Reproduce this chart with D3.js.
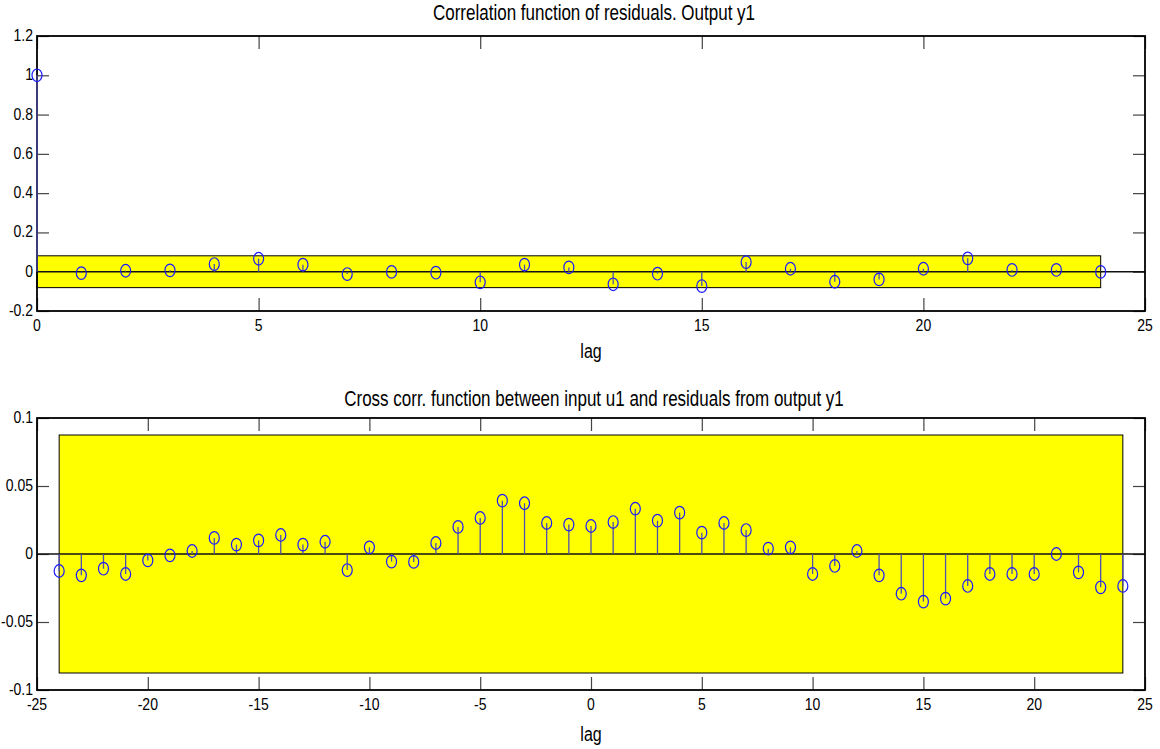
<!DOCTYPE html>
<html>
<head>
<meta charset="utf-8">
<script src="https://cdn.jsdelivr.net/npm/d3@7/dist/d3.min.js"></script>
<style>
  html, body { margin: 0; padding: 0; background: #fff; }
  svg { display: block; }
  text { font-family: "Liberation Sans", Arial, Helvetica, sans-serif; fill: #000; }
</style>
</head>
<body>
<svg id="chart" width="1160" height="749"></svg>
<script>
// ---------- data ----------
const acfLags = [0,1,2,3,4,5,6,7,8,9,10,11,12,13,14,15,16,17,18,19,20,21,22,23,24];
const acfValues = [1, -0.007, 0.005, 0.007, 0.039, 0.066, 0.036, -0.012, -0.001, -0.005,
  -0.054, 0.036, 0.022, -0.064, -0.01, -0.073, 0.049, 0.015, -0.051, -0.039,
  0.015, 0.068, 0.009, 0.009, -0.001];
const acfConf = 0.081;

const ccfLags = [-24,-23,-22,-21,-20,-19,-18,-17,-16,-15,-14,-13,-12,-11,-10,-9,-8,-7,-6,-5,-4,-3,-2,-1,
  0,1,2,3,4,5,6,7,8,9,10,11,12,13,14,15,16,17,18,19,20,21,22,23,24];
const ccfValues = [-0.0125, -0.0157, -0.0108, -0.0147, -0.0047, -0.001, 0.0022, 0.0118, 0.0069, 0.010,
  0.014, 0.0069, 0.009, -0.0118, 0.0049, -0.0056, -0.0058, 0.0081, 0.0199, 0.0265,
  0.0392, 0.0373, 0.0228, 0.0216, 0.0206, 0.0235, 0.0333, 0.0245, 0.0304, 0.0157,
  0.0228, 0.0176, 0.0039, 0.0049, -0.0147, -0.0088, 0.0022, -0.0157, -0.0292, -0.035,
  -0.0328, -0.0235, -0.0147, -0.0147, -0.0147, 0, -0.0135, -0.0245, -0.0235];
const ccfConf = 0.0875;

const acfXTicks = [0,5,10,15,20,25];
const acfXLabels = ["0","5","10","15","20","25"];
const acfYTicks = [1.2,1,0.8,0.6,0.4,0.2,0,-0.2];
const acfYLabels = ["1.2","1","0.8","0.6","0.4","0.2","0","-0.2"];

const ccfXTicks = [-25,-20,-15,-10,-5,0,5,10,15,20,25];
const ccfXLabels = ["-25","-20","-15","-10","-5","0","5","10","15","20","25"];
const ccfYTicks = [0.1,0.05,0,-0.05,-0.1];
const ccfYLabels = ["0.1","0.05","0","-0.05","-0.1"];

const titles = ["Correlation function of residuals. Output y1",
                "Cross corr. function between input u1 and residuals from output y1"];
const xLabel = "lag";

// ---------- drawing ----------
const svg = d3.select("#chart");

function stretchedText(g, x, y, str, size, anchor, sy) {
  return g.append("text")
    .attr("transform", `translate(${x},${y}) scale(1,${sy})`)
    .attr("text-anchor", anchor)
    .style("font-size", size + "px")
    .text(str);
}

function panel(cfg) {
  const { left, right, top, bottom, xDomain, yDomain, lags, values, conf, confX,
          xTicks, xLabels, yTicks, yLabels, title, titleY, lagY } = cfg;
  const x = d3.scaleLinear().domain(xDomain).range([left, right]);
  const y = d3.scaleLinear().domain(yDomain).range([bottom, top]);
  const g = svg.append("g");

  // ticks (inward, on all four sides)
  const tickCol = "#444";
  const ax = [
    g.append("g").attr("transform", `translate(0,${bottom})`).call(d3.axisBottom(x).tickValues(xTicks).tickSize(-13).tickSizeOuter(0).tickFormat(() => "")),
    g.append("g").attr("transform", `translate(0,${top})`).call(d3.axisTop(x).tickValues(xTicks).tickSize(-13).tickSizeOuter(0).tickFormat(() => "")),
    g.append("g").attr("transform", `translate(${left},0)`).call(d3.axisLeft(y).tickValues(yTicks).tickSize(-12).tickSizeOuter(0).tickFormat(() => "")),
    g.append("g").attr("transform", `translate(${right},0)`).call(d3.axisRight(y).tickValues(yTicks).tickSize(-12).tickSizeOuter(0).tickFormat(() => ""))
  ];
  ax.forEach(a => {
    a.select(".domain").remove();
    a.selectAll("line").attr("stroke", tickCol).attr("stroke-width", 1.2);
  });

  // confidence band
  g.append("rect")
    .attr("x", x(confX[0])).attr("y", y(conf))
    .attr("width", x(confX[1]) - x(confX[0]))
    .attr("height", y(-conf) - y(conf))
    .attr("fill", "#ffff00").attr("stroke", "#000").attr("stroke-width", 1);

  // zero line
  g.append("line")
    .attr("x1", x(xDomain[0])).attr("x2", x(xDomain[1]))
    .attr("y1", y(0)).attr("y2", y(0))
    .attr("stroke", "#111").attr("stroke-width", 1.5);

  // axes box
  g.append("rect")
    .attr("x", left).attr("y", top)
    .attr("width", right - left).attr("height", bottom - top)
    .attr("fill", "none").attr("stroke", "#000").attr("stroke-width", 1.8);

  // stems
  g.append("g").selectAll("line").data(lags).join("line")
    .attr("x1", d => x(d)).attr("x2", d => x(d))
    .attr("y1", y(0)).attr("y2", (d, i) => y(values[i]))
    .attr("stroke", "#4f4fb0").attr("stroke-width", 1.3);

  // markers
  g.append("g").selectAll("ellipse").data(lags).join("ellipse")
    .attr("cx", d => x(d)).attr("cy", (d, i) => y(values[i]))
    .attr("rx", 5).attr("ry", 6.3)
    .attr("fill", "none").attr("stroke", "#1a1aff").attr("stroke-width", 1.2);

  // tick labels
  xTicks.forEach((t, i) => stretchedText(g, x(t), bottom + 20, xLabels[i], 14, "middle", 1.2));
  yTicks.forEach((t, i) => stretchedText(g, left - 4, y(t) + 5, yLabels[i], 14, "end", 1.2));

  // title and x label
  stretchedText(g, (left + right) / 2 + 3, titleY, title, 17, "middle", 1.3);
  stretchedText(g, (left + right) / 2, lagY, xLabel, 16, "middle", 1.3);
}

panel({
  left: 37, right: 1145, top: 36, bottom: 311,
  xDomain: [0, 25], yDomain: [-0.2, 1.2],
  lags: acfLags, values: acfValues, conf: acfConf, confX: [0, 24],
  xTicks: acfXTicks, xLabels: acfXLabels, yTicks: acfYTicks, yLabels: acfYLabels,
  title: titles[0], titleY: 20, lagY: 358
});

panel({
  left: 37, right: 1145, top: 418, bottom: 690,
  xDomain: [-25, 25], yDomain: [-0.1, 0.1],
  lags: ccfLags, values: ccfValues, conf: ccfConf, confX: [-24, 24],
  xTicks: ccfXTicks, xLabels: ccfXLabels, yTicks: ccfYTicks, yLabels: ccfYLabels,
  title: titles[1], titleY: 406, lagY: 741
});
</script>
</body>
</html>
